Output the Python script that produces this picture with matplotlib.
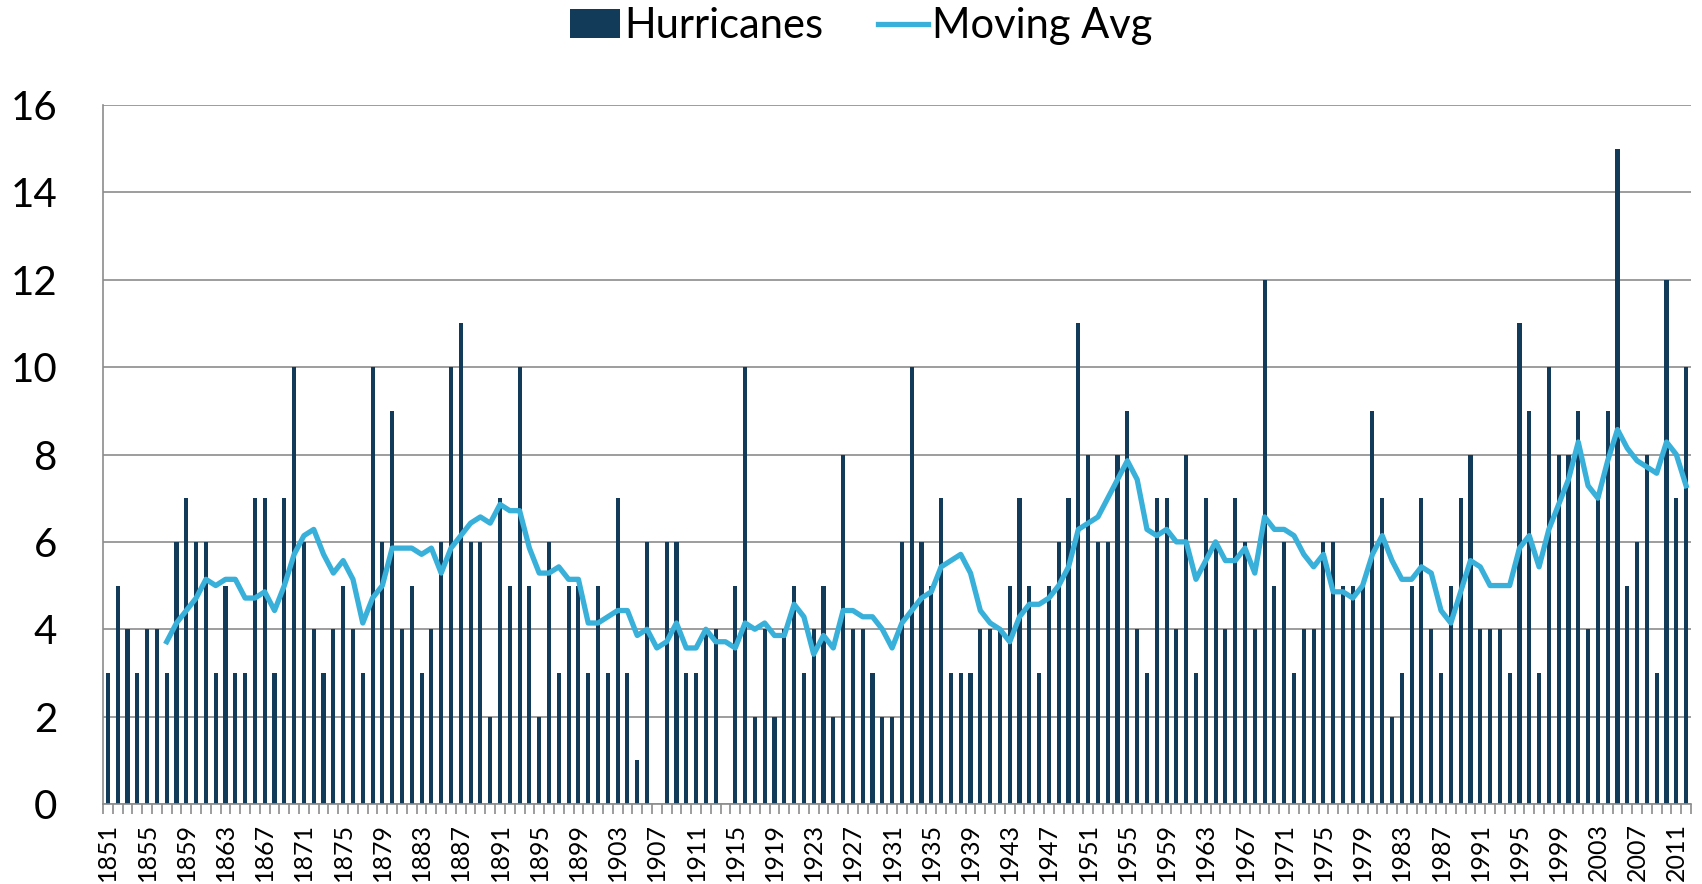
import numpy as np
import pandas as pd
import matplotlib
matplotlib.use("Agg")
import matplotlib.pyplot as plt
from matplotlib.lines import Line2D
from matplotlib.patches import Patch

# Atlantic hurricanes per year
years = list(range(1851, 2013))
hurricanes = [
    3, 5, 4, 3, 4, 4, 3, 6, 7, 6,      # 1851-1860
    6, 3, 5, 3, 3, 7, 7, 3, 7, 10,     # 1861-1870
    6, 4, 3, 4, 5, 4, 3, 10, 6, 9,     # 1871-1880
    4, 5, 3, 4, 6, 10, 11, 6, 6, 2,    # 1881-1890
    7, 5, 10, 5, 2, 6, 3, 5, 5, 3,     # 1891-1900
    5, 3, 7, 3, 1, 6, 0, 6, 6, 3,      # 1901-1910
    3, 4, 4, 0, 5, 10, 2, 4, 2, 4,     # 1911-1920
    5, 3, 4, 5, 2, 8, 4, 4, 3, 2,      # 1921-1930
    2, 6, 10, 6, 5, 7, 3, 3, 3, 4,     # 1931-1940
    4, 4, 5, 7, 5, 3, 5, 6, 7, 11,     # 1941-1950
    8, 6, 6, 8, 9, 4, 3, 7, 7, 4,      # 1951-1960
    8, 3, 7, 6, 4, 7, 6, 4, 12, 5,     # 1961-1970
    6, 3, 4, 4, 6, 6, 5, 5, 5, 9,      # 1971-1980
    7, 2, 3, 5, 7, 4, 3, 5, 7, 8,      # 1981-1990
    4, 4, 4, 3, 11, 9, 3, 10, 8, 8,    # 1991-2000
    9, 4, 7, 9, 15, 5, 6, 8, 3, 12,    # 2001-2010
    7, 10,                             # 2011-2012
]
# 7-year trailing moving average, as drawn in the chart
moving_avg = pd.Series(hurricanes).rolling(7).mean()

bar_color = "#123b5a"
line_color = "#38b0d9"
grid_color = "#8c8c8c"

plt.rcParams['font.family'] = ['Lato', 'DejaVu Sans']

fig = plt.figure(figsize=(17.02, 8.84), dpi=100)
ax = fig.add_axes([103 / 1702, 1 - 804 / 884, (1691 - 103) / 1702, (804 - 105) / 884])

x = np.arange(len(years))
ax.bar(x, hurricanes, width=0.42, color=bar_color, zorder=2)
ax.plot(x, moving_avg, color=line_color, lw=3.8, zorder=3)

ax.set_xlim(-0.5, len(years) - 0.5)
ax.set_ylim(0, 16)
ax.set_yticks(range(0, 17, 2))
ax.yaxis.grid(True, color=grid_color, lw=1.2, zorder=0)
ax.tick_params(axis="y", length=0, labelsize=29, pad=33)

ax.set_xticks(x[::4])
ax.set_xticklabels([str(y) for y in years[::4]], rotation=90, fontsize=18)
ax.set_xticks(np.arange(-0.5, len(years), 1), minor=True)
ax.tick_params(axis="x", which="major", length=0, pad=13.5)
ax.tick_params(axis="x", which="minor", length=7.2, color=grid_color, width=1.2)

for s in ["top", "right"]:
    ax.spines[s].set_visible(False)
ax.spines["left"].set_color(grid_color)
ax.spines["left"].set_linewidth(1.2)
ax.spines["bottom"].set_color(grid_color)
ax.spines["bottom"].set_linewidth(1.2)

handles = [Patch(facecolor=bar_color), Line2D([0], [0], color=line_color, lw=3.8)]
fig.legend(handles, ["Hurricanes", "Moving Avg"], loc="upper center",
           bbox_to_anchor=(0.506, 1.034), ncol=2, frameon=False, fontsize=30,
           handlelength=1.2, handletextpad=0.1, columnspacing=1.3)

fig.savefig("out.png", dpi=100)
